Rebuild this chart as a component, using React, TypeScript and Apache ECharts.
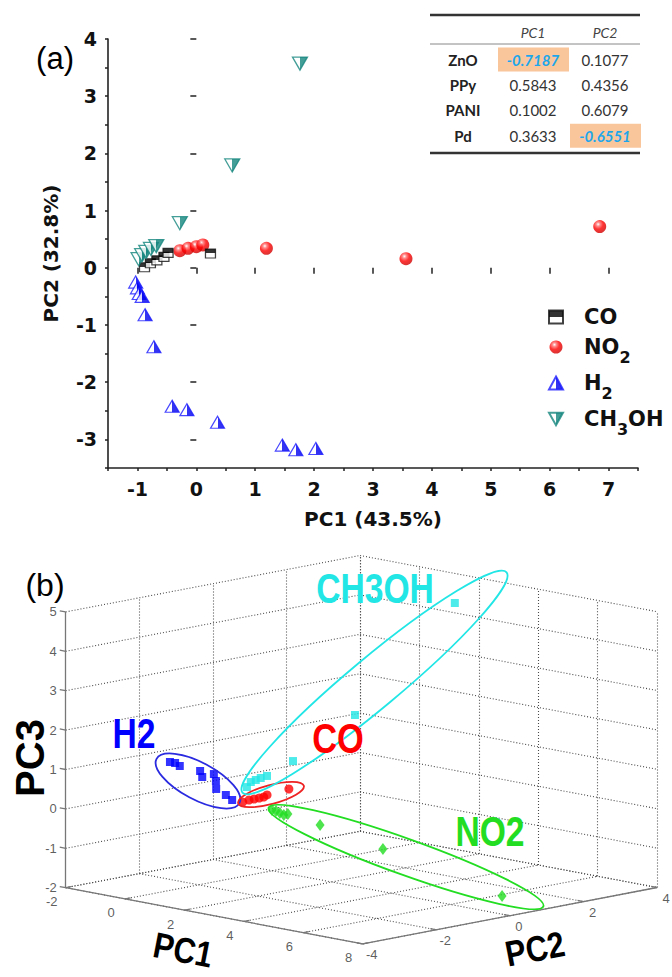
import { useEffect, useRef } from "react";
import * as echarts from "echarts";

// ---------------- Panel (a): PC1 vs PC2 scores ----------------
const coScores: number[][] = [
  [-0.88, 0.01], [-0.78, 0.08], [-0.67, 0.13], [-0.55, 0.19], [-0.48, 0.26], [0.24, 0.25],
];
const no2Scores: number[][] = [
  [-0.28, 0.3], [-0.14, 0.34], [0.0, 0.37], [0.11, 0.4], [1.19, 0.34], [3.56, 0.16], [6.85, 0.72],
];
const h2Scores: number[][] = [
  [-1.03, -0.25], [-1.0, -0.35], [-0.97, -0.45], [-0.92, -0.5], [-0.87, -0.82], [-0.72, -1.38],
  [-0.41, -2.42], [-0.16, -2.48], [0.36, -2.7], [1.46, -3.1], [1.69, -3.18], [2.03, -3.16],
];
const ch3ohScores: number[][] = [
  [-0.98, 0.15], [-0.92, 0.22], [-0.85, 0.28], [-0.77, 0.33], [-0.68, 0.38],
  [-0.28, 0.78], [0.61, 1.79], [1.76, 3.57],
];
const xMajorA = [-1, 0, 1, 2, 3, 4, 5, 6, 7];
const yMajorA = [-3, -2, -1, 0, 1, 2, 3, 4];

// Loadings table
const tableRows = ["ZnO", "PPy", "PANI", "Pd"];
const tableCols = ["PC1", "PC2"];
const loadPC1 = [-0.7187, 0.5843, 0.1002, 0.3633];
const loadPC2 = [0.1077, 0.4356, 0.6079, -0.6551];

// ---------------- Panel (b): 3D scores (PC1, PC2, PC3) ----------------
const h2_3d: number[][] = [
  [-0.2, -2.62, 1.2], [-0.2, -2.48, 1.15], [-0.03, -2.49, 1.1], [0.06, -2.01, 0.9], [0.28, -2.13, 0.8],
  [0.04, -1.62, 0.75], [0.17, -1.67, 0.6], [0.18, -1.67, 0.4], [0.53, -1.69, 0.3], [0.73, -1.68, 0.2],
];
const co_3d: number[][] = [
  [0.74, -1.4, 0.1], [0.84, -1.31, 0.15], [0.84, -1.17, 0.15], [1.01, -1.17, 0.2],
  [1.0, -1.04, 0.2], [1.05, -0.99, 0.25], [1.24, -0.55, 0.35],
];
const ch3oh_3d: number[][] = [
  [0.88, -1.4, 0.5], [0.85, -1.27, 0.6], [0.93, -1.2, 0.65], [1.01, -1.13, 0.7],
  [1.11, -1.04, 0.75], [1.8, -0.89, 1.2], [2.61, 0.14, 2.3], [3.11, 2.45, 4.8],
];
const no2_3d: number[][] = [
  [1.24, -1.01, -0.1], [1.4, -1.03, -0.1], [1.47, -0.98, -0.15], [1.54, -0.93, -0.2],
  [1.69, -0.94, -0.15], [2.34, -0.59, -0.4], [3.44, 0.23, -1.0], [6.82, 0.74, -1.8],
];
const pc1Ticks = [-2, 0, 2, 4, 6, 8];
const pc2Ticks = [-4, -2, 0, 2, 4];
const pc3Ticks = [-2, -1, 0, 1, 2, 3, 4, 5];

// view (camera) of the 3D box
const VIEW = { ox: 65.7, oy: 887.7, ax: 29.7, ay: 5.62, bx: 36.8, by: -7.05, cz: 39.4 };
const P1MIN = pc1Ticks[0], P1MAX = pc1Ticks[pc1Ticks.length - 1];
const P2MIN = pc2Ticks[0], P2MAX = pc2Ticks[pc2Ticks.length - 1];
const P3MIN = pc3Ticks[0], P3MAX = pc3Ticks[pc3Ticks.length - 1];

function project(p1: number, p2: number, p3: number): number[] {
  const u = p1 - P1MIN, v = p2 - P2MIN, w = p3 - P3MIN;
  return [VIEW.ox + VIEW.ax * u + VIEW.bx * v, VIEW.oy + VIEW.ay * u + VIEW.by * v - VIEW.cz * w];
}

const FONT_A = "DejaVu Sans, Liberation Sans, sans-serif";
const FONT_B = "Liberation Sans, Arial, sans-serif";
const FONT_T = "Lato, Open Sans, sans-serif";

function hardGrad(horizontal: boolean, c1: string, c2: string) {
  return new echarts.graphic.LinearGradient(0, 0, horizontal ? 1 : 0, horizontal ? 0 : 1, [
    { offset: 0, color: c1 }, { offset: 0.5, color: c1 },
    { offset: 0.5, color: c2 }, { offset: 1, color: c2 },
  ]);
}

function buildOption() {
  // ---- 3D grid segments
  const grid3d: number[][][] = [];
  pc3Ticks.forEach((z) => {
    grid3d.push([project(P1MIN, P2MIN, z), project(P1MIN, P2MAX, z)]);
    grid3d.push([project(P1MIN, P2MAX, z), project(P1MAX, P2MAX, z)]);
  });
  pc2Ticks.forEach((y) => {
    if (y !== P2MIN) grid3d.push([project(P1MIN, y, P3MIN), project(P1MIN, y, P3MAX)]);
    grid3d.push([project(P1MIN, y, P3MIN), project(P1MAX, y, P3MIN)]);
  });
  pc1Ticks.forEach((x) => {
    grid3d.push([project(x, P2MAX, P3MIN), project(x, P2MAX, P3MAX)]);
    grid3d.push([project(x, P2MIN, P3MIN), project(x, P2MAX, P3MIN)]);
  });
  const axes3d: number[][][] = [
    [project(P1MIN, P2MIN, P3MIN), project(P1MIN, P2MIN, P3MAX)],
    [project(P1MIN, P2MIN, P3MIN), project(P1MAX, P2MIN, P3MIN)],
    [project(P1MAX, P2MIN, P3MIN), project(P1MAX, P2MAX, P3MIN)],
  ];
  pc3Ticks.forEach((z) => axes3d.push([project(P1MIN, P2MIN, z), project(P1MIN - 0.2, P2MIN, z)]));
  pc1Ticks.forEach((x) => axes3d.push([project(x, P2MIN, P3MIN), project(x, P2MIN + 0.15, P3MIN)]));
  pc2Ticks.forEach((y) => axes3d.push([project(P1MAX, y, P3MIN), project(P1MAX - 0.2, y, P3MIN)]));

  const pc3Lab = pc3Ticks.map((z) => [...project(P1MIN, P2MIN, z), z]);
  const pc1Lab = pc1Ticks.map((x) => [...project(x, P2MIN, P3MIN), x]);
  const pc2Lab = pc2Ticks.map((y) => [...project(P1MAX, y, P3MIN), y]);

  const proj = (arr: number[][]) => arr.map((p) => project(p[0], p[1], p[2]));

  const bAxis = { xAxisIndex: 2, yAxisIndex: 2 };
  const tickLabelStyle = { color: "#333", fontSize: 13, fontFamily: FONT_B };

  // ---- table graphics
  const colX = [533, 605];
  const rowLabelX = 463;
  const headerY = 32;
  const rowY0 = 59.5;
  const rowStep = 25.4;
  const cols = [loadPC1, loadPC2];
  const maxIdx = cols.map((c) => {
    let k = 0;
    c.forEach((v, i) => { if (Math.abs(v) > Math.abs(c[k])) k = i; });
    return k;
  });
  const tableEls: any[] = [];
  cols.forEach((c, ci) => {
    const ri = maxIdx[ci];
    tableEls.push({
      type: "rect", shape: { x: colX[ci] - 35, y: rowY0 + ri * rowStep - 12, width: 71, height: 24 },
      style: { fill: "#f9c69c" }, z: 10,
    });
  });
  tableEls.push(
    { type: "line", shape: { x1: 430, y1: 15, x2: 640, y2: 15 }, style: { stroke: "#333", lineWidth: 2.5 }, z: 11 },
    { type: "line", shape: { x1: 430, y1: 44, x2: 640, y2: 44 }, style: { stroke: "#888", lineWidth: 1 }, z: 11 },
    { type: "line", shape: { x1: 430, y1: 153, x2: 640, y2: 153 }, style: { stroke: "#333", lineWidth: 2.5 }, z: 11 },
  );
  tableCols.forEach((h, ci) => {
    tableEls.push({
      type: "text", x: colX[ci], y: headerY, z: 12,
      style: { text: h, fontSize: 14, fontStyle: "italic", fontFamily: FONT_T, fill: "#444", align: "center", verticalAlign: "middle", textAlign: "center", textVerticalAlign: "middle" },
    });
  });
  tableRows.forEach((r, ri) => {
    const y = rowY0 + ri * rowStep;
    tableEls.push({
      type: "text", x: rowLabelX, y, z: 12,
      style: { text: r, fontSize: 15, fontWeight: "bold", fontFamily: FONT_T, fill: "#222", align: "center", verticalAlign: "middle", textAlign: "center", textVerticalAlign: "middle" },
    });
    cols.forEach((c, ci) => {
      const hl = maxIdx[ci] === ri;
      tableEls.push({
        type: "text", x: colX[ci], y, z: 12,
        style: {
          text: c[ri].toFixed(4), fontSize: 15, fontFamily: FONT_T,
          fontWeight: hl ? "bold" : "normal", fontStyle: hl ? "italic" : "normal",
          fill: hl ? "#1ea6ea" : "#333",
          align: "center", verticalAlign: "middle", textAlign: "center", textVerticalAlign: "middle",
        },
      });
    });
  });

  const txt = (text: string, x: number, y: number, o: any) => ({
    type: "text", x, y, z: 20, rotation: o.rotation || 0, scaleX: o.scaleX || 1,
    style: {
      text, fontSize: o.fontSize, fontWeight: o.fontWeight || "normal", fontFamily: o.fontFamily || FONT_B,
      fill: o.fill || "#000", align: "center", verticalAlign: "middle", textAlign: "center", textVerticalAlign: "middle",
    },
  });
  const ell = (cx: number, cy: number, rx: number, ry: number, rot: number, stroke: string) => ({
    type: "ellipse", x: cx, y: cy, rotation: rot, z: 15, silent: true,
    shape: { cx: 0, cy: 0, rx, ry }, style: { fill: "none", stroke, lineWidth: 1.8 },
  });

  const graphic: any[] = [
    ...tableEls,
    txt("(a)", 55, 58, { fontSize: 31 }),
    txt("(b)", 45, 585, { fontSize: 32 }),
    txt("PC1", 183, 950, { fontSize: 36, fontWeight: "bold", scaleX: 0.85, rotation: -0.19 }),
    txt("PC2", 535, 949, { fontSize: 36, fontWeight: "bold", scaleX: 0.85, rotation: 0.19 }),
    txt("PC3", 30, 758, { fontSize: 40, fontWeight: "bold", rotation: Math.PI / 2 }),
    txt("H2", 134, 734, { fontSize: 42, fontWeight: "bold", scaleX: 0.8, fill: "#0000ff" }),
    txt("CH3OH", 375, 589, { fontSize: 42, fontWeight: "bold", scaleX: 0.8, fill: "#22e6e6" }),
    txt("CO", 338, 738, { fontSize: 42, fontWeight: "bold", scaleX: 0.82, fill: "#ff0000" }),
    txt("NO2", 490, 832, { fontSize: 42, fontWeight: "bold", scaleX: 0.8, fill: "#22dd22" }),
    ell(198, 781, 47, 18.5, -0.49, "#2a2ae0"),
    ell(271, 794.5, 34, 9.5, 0.26, "#ee2222"),
    ell(374.5, 682.5, 172, 25, 0.695, "#22e6e6"),
    ell(406, 857, 146, 18, -0.345, "#22dd22"),
  ];

  const legendNames: Record<string, string> = {
    CO: "CO", NO2: "NO{s|2}", H2: "H{s|2}", CH3OH: "CH{s|3}OH",
  };

  const axisA = {
    axisLine: { show: true, onZero: false, lineStyle: { color: "#222", width: 1.6 } },
    splitLine: { show: false },
  };

  return {
    animation: false,
    backgroundColor: "#fff",
    grid: [
      { left: 108, top: 39, width: 530, height: 429 },
      { left: 0, top: 0, width: 672, height: 977 },
    ],
    xAxis: [
      {
        ...axisA, gridIndex: 0, type: "value", min: -1.5, max: 7.5, interval: 0.5, position: "bottom",
        axisTick: { show: true, length: 3, lineStyle: { color: "#222", width: 1.5 } },
        axisLabel: {
          formatter: (v: number) => (xMajorA.includes(v) ? String(v) : ""),
          fontSize: 19, fontWeight: "bold", fontFamily: FONT_A, color: "#111", margin: 11,
        },
        name: "PC1 (43.5%)", nameLocation: "middle", nameGap: 41,
        nameTextStyle: { fontSize: 20, fontWeight: "bold", fontFamily: FONT_A, color: "#111" },
      },
      {
        gridIndex: 0, type: "value", min: -1.5, max: 7.5, position: "bottom",
        axisLine: { show: false }, splitLine: { show: false }, axisLabel: { show: false },
        axisTick: { show: true, length: 6, customValues: xMajorA, lineStyle: { color: "#222", width: 1.5 } },
      },
      { gridIndex: 1, type: "value", min: 0, max: 672, show: false },
    ],
    yAxis: [
      {
        ...axisA, gridIndex: 0, type: "value", min: -3.5, max: 4, interval: 0.5, position: "left",
        axisTick: { show: true, length: 3, lineStyle: { color: "#222", width: 1.5 } },
        axisLabel: {
          formatter: (v: number) => (yMajorA.includes(v) ? String(v) : ""),
          fontSize: 19, fontWeight: "bold", fontFamily: FONT_A, color: "#111", margin: 11,
        },
        name: "PC2 (32.8%)", nameLocation: "middle", nameGap: 47, nameRotate: 90,
        nameTextStyle: { fontSize: 20, fontWeight: "bold", fontFamily: FONT_A, color: "#111" },
      },
      {
        gridIndex: 0, type: "value", min: -3.5, max: 4, position: "left",
        axisLine: { show: false }, splitLine: { show: false }, axisLabel: { show: false },
        axisTick: { show: true, length: 6, customValues: yMajorA, lineStyle: { color: "#222", width: 1.5 } },
      },
      { gridIndex: 1, type: "value", min: 0, max: 977, inverse: true, show: false },
    ],
    legend: {
      data: ["CO", "NO2", "H2", "CH3OH"],
      orient: "vertical", left: 543, top: 300, itemGap: 0, itemWidth: 14, itemHeight: 13,
      formatter: (n: string) => legendNames[n] || n,
      textStyle: {
        fontSize: 21, fontWeight: "bold", fontFamily: FONT_A, color: "#111", lineHeight: 24,
        padding: [0, 0, 0, 16],
        rich: { s: { fontSize: 16, fontWeight: "bold", fontFamily: FONT_A, color: "#111", lineHeight: 18, padding: [20, 0, 0, 0] } },
      },
      selectedMode: false,
    },
    graphic,
    series: [
      // ---------------- panel (a)
      {
        name: "CO", type: "scatter", xAxisIndex: 0, yAxisIndex: 0, data: coScores,
        symbol: "rect", symbolSize: [10, 9], z: 5,
        itemStyle: { color: hardGrad(false, "#000", "#fff"), borderColor: "#111", borderWidth: 1.2 },
      },
      {
        name: "NO2", type: "scatter", xAxisIndex: 0, yAxisIndex: 0, data: no2Scores,
        symbol: "circle", symbolSize: 13, z: 4,
        itemStyle: {
          color: new echarts.graphic.RadialGradient(0.38, 0.32, 0.68, [
            { offset: 0, color: "#ffffff" }, { offset: 0.22, color: "#ff7070" },
            { offset: 0.55, color: "#ff0000" }, { offset: 1, color: "#d00000" },
          ]),
        },
      },
      {
        name: "H2", type: "scatter", xAxisIndex: 0, yAxisIndex: 0, data: h2Scores,
        symbol: "triangle", symbolSize: [14, 12], z: 5,
        itemStyle: { color: hardGrad(true, "#fff", "#0000ee"), borderColor: "#1a1aff", borderWidth: 1.2 },
      },
      {
        name: "CH3OH", type: "scatter", xAxisIndex: 0, yAxisIndex: 0, data: ch3ohScores,
        symbol: "path://M0,0L10,0L5,9Z", symbolSize: [15, 13], z: 6,
        itemStyle: { color: hardGrad(true, "#fff", "#15867e"), borderColor: "#15867e", borderWidth: 1.3 },
      },
      // ---------------- panel (b)
      {
        name: "grid3d", type: "lines", coordinateSystem: "cartesian2d", ...bAxis, silent: true, z: 1,
        data: grid3d.map((s) => ({ coords: s })),
        lineStyle: { color: "#4a4a4a", width: 1.1, type: [1, 2], opacity: 1, curveness: 0 },
      },
      {
        name: "axes3d", type: "lines", coordinateSystem: "cartesian2d", ...bAxis, silent: true, z: 2,
        data: axes3d.map((s) => ({ coords: s })),
        lineStyle: { color: "#777", width: 1.3, type: "solid", opacity: 1, curveness: 0 },
      },
      {
        name: "pc3Labels", type: "scatter", ...bAxis, data: pc3Lab, symbolSize: 0, silent: true,
        label: { show: true, position: "left", distance: 9, formatter: (p: any) => String(p.value[2]), ...tickLabelStyle },
      },
      {
        name: "pc1Labels", type: "scatter", ...bAxis, data: pc1Lab, symbolSize: 0, silent: true,
        label: { show: true, position: "inside", offset: [-14, 14], formatter: (p: any) => String(p.value[2]), ...tickLabelStyle },
      },
      {
        name: "pc2Labels", type: "scatter", ...bAxis, data: pc2Lab, symbolSize: 0, silent: true,
        label: { show: true, position: "inside", offset: [9, 11], formatter: (p: any) => String(p.value[2]), ...tickLabelStyle },
      },
      {
        name: "H2 (3D)", type: "scatter", ...bAxis, data: proj(h2_3d), symbol: "rect", symbolSize: 8, z: 8,
        itemStyle: { color: "#0000ff" },
      },
      {
        name: "CH3OH (3D)", type: "scatter", ...bAxis, data: proj(ch3oh_3d), symbol: "rect", symbolSize: 8, z: 8,
        itemStyle: { color: "#22e6e6" },
      },
      {
        name: "CO (3D)", type: "scatter", ...bAxis, data: proj(co_3d), symbol: "circle", symbolSize: 9, z: 9,
        itemStyle: { color: "#ff0000" },
      },
      {
        name: "NO2 (3D)", type: "scatter", ...bAxis, data: proj(no2_3d), symbol: "diamond", symbolSize: [9, 12], z: 8,
        itemStyle: { color: "#22dd22" },
      },
    ],
  };
}

export default function App() {
  const ref = useRef<HTMLDivElement>(null);
  useEffect(() => {
    if (!ref.current) return;
    const chart = echarts.init(ref.current, undefined, { renderer: "svg" });
    chart.setOption(buildOption() as any);
    return () => chart.dispose();
  }, []);
  return (
    <div
      ref={ref}
      style={{ position: "absolute", left: 0, top: 0, width: 672, height: 977, background: "#fff" }}
    />
  );
}
